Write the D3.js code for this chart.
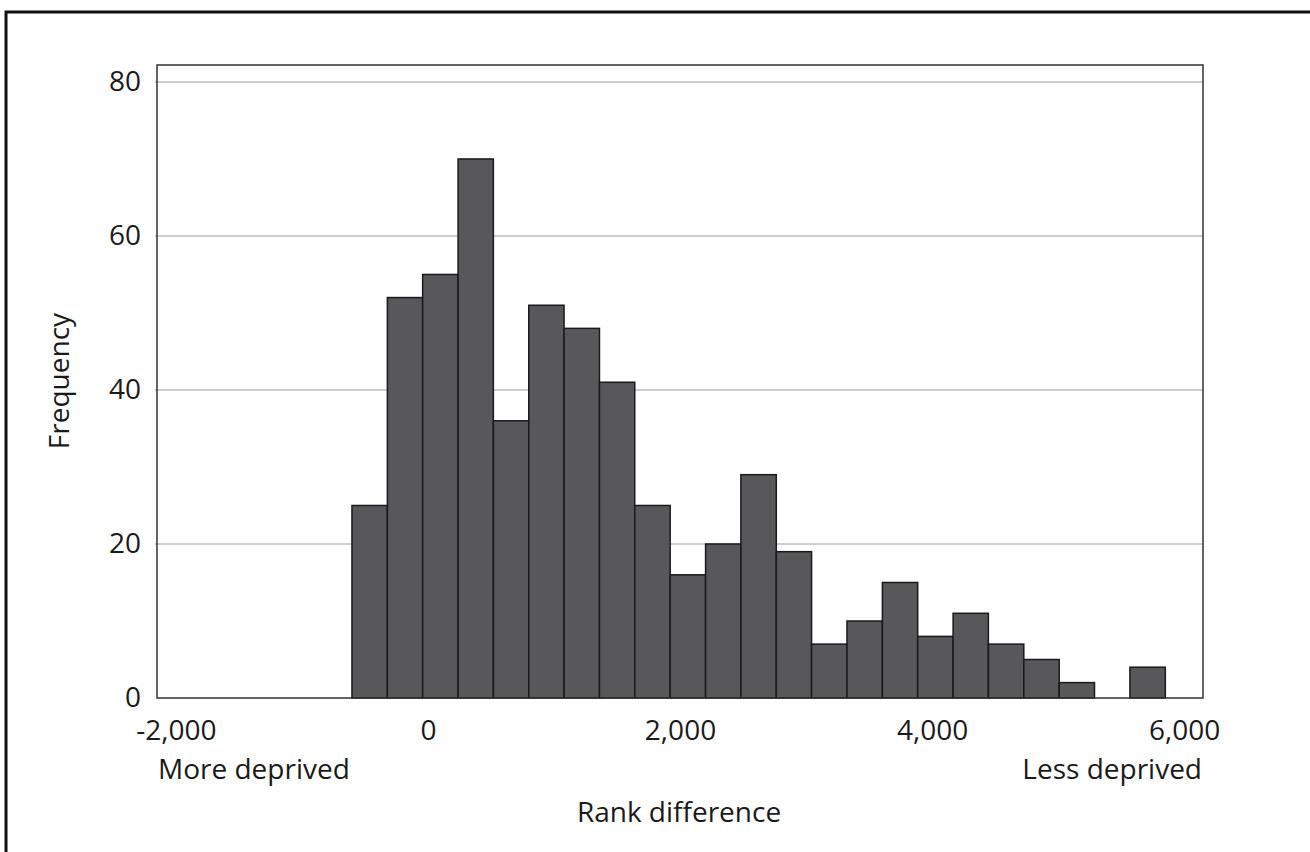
<!DOCTYPE html>
<html>
<head>
<meta charset="utf-8">
<script src="https://cdn.jsdelivr.net/npm/d3@7"></script>
<style>
  html, body { margin: 0; padding: 0; background: #fff; }
  svg { display: block; font-family: "Open Sans", sans-serif; }
</style>
</head>
<body>
<svg id="chart" width="1310" height="852"></svg>
<script>
// Histogram bin edges (rank difference) and frequencies
const binEdges = [-603, -322, -42, 239, 519, 800, 1080, 1361, 1641, 1922, 2203, 2483,
                  2764, 3044, 3325, 3606, 3886, 4167, 4447, 4728, 5009, 5289, 5570, 5851];
const counts = [25, 52, 55, 70, 36, 51, 48, 41, 25, 16, 20, 29,
                19, 7, 10, 15, 8, 11, 7, 5, 2, 0, 4];
const xTicks = [-2000, 0, 2000, 4000, 6000];
const yTicks = [0, 20, 40, 60, 80];
const xDomain = [-2150, 6150];
const yDomain = [0, 82.2];

const svg = d3.select("#chart");
const plot = { left: 157, right: 1203, top: 65, bottom: 698 };

const x = d3.scaleLinear().domain(xDomain).range([plot.left, plot.right]);
const y = d3.scaleLinear().domain(yDomain).range([plot.bottom, plot.top]);

// outer frame
svg.append("rect")
  .attr("x", 6).attr("y", 12)
  .attr("width", 1400).attr("height", 1000)
  .attr("fill", "none").attr("stroke", "#111").attr("stroke-width", 3);

// gridlines
svg.append("g").selectAll("line").data(yTicks.filter(d => d > 0)).join("line")
  .attr("x1", plot.left - 2).attr("x2", plot.right)
  .attr("y1", d => y(d)).attr("y2", d => y(d))
  .attr("stroke", "#bdbdbd").attr("stroke-width", 1.5);

// bars
const bins = counts.map((c, i) => ({ x0: binEdges[i], x1: binEdges[i + 1], c }));
svg.append("g").selectAll("rect").data(bins.filter(b => b.c > 0)).join("rect")
  .attr("x", d => x(d.x0))
  .attr("width", d => x(d.x1) - x(d.x0))
  .attr("y", d => y(d.c))
  .attr("height", d => y(0) - y(d.c))
  .attr("fill", "#58585a")
  .attr("stroke", "#1a1a1a")
  .attr("stroke-width", 1.5);

// plot box
svg.append("rect")
  .attr("x", plot.left).attr("y", plot.top)
  .attr("width", plot.right - plot.left).attr("height", plot.bottom - plot.top)
  .attr("fill", "none").attr("stroke", "#333").attr("stroke-width", 1.5);

const fmt = d => d3.format(",")(d).replace("\u2212", "-");

// y axis labels
const yAxis = d3.axisLeft(y).tickValues(yTicks).tickSize(0).tickPadding(16).tickFormat(fmt);
const gy = svg.append("g").attr("transform", `translate(${plot.left},0)`).call(yAxis);
gy.select(".domain").remove();
gy.selectAll("text").attr("font-size", 28).attr("fill", "#1a1a1a")
  .attr("font-family", "Open Sans, sans-serif");

// x axis labels
const xAxis = d3.axisBottom(x).tickValues(xTicks).tickSize(0).tickPadding(0).tickFormat(fmt);
const gx = svg.append("g").attr("transform", `translate(0,${plot.bottom})`).call(xAxis);
gx.select(".domain").remove();
gx.selectAll("text").attr("font-size", 28).attr("fill", "#1a1a1a")
  .attr("font-family", "Open Sans, sans-serif")
  .attr("dy", null).attr("y", 42);

// end annotations
svg.append("text").attr("x", plot.left + 1).attr("y", 779)
  .attr("font-size", 28).attr("fill", "#1a1a1a").text("More deprived");
svg.append("text").attr("x", plot.right - 1).attr("y", 779)
  .attr("text-anchor", "end")
  .attr("font-size", 28).attr("fill", "#1a1a1a").text("Less deprived");

// axis titles
svg.append("text").attr("x", 679).attr("y", 822)
  .attr("text-anchor", "middle")
  .attr("font-size", 28).attr("fill", "#1a1a1a").text("Rank difference");
svg.append("text")
  .attr("transform", "translate(69,381) rotate(-90)")
  .attr("text-anchor", "middle")
  .attr("font-size", 28).attr("fill", "#1a1a1a").text("Frequency");
</script>
</body>
</html>
